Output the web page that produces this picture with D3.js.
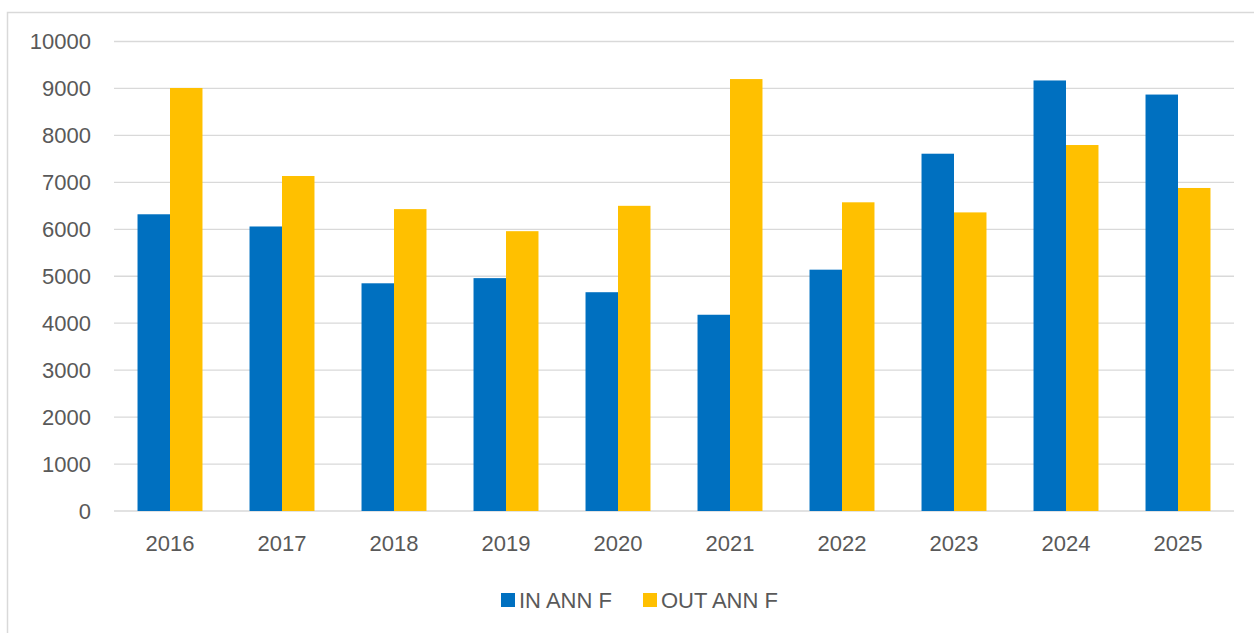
<!DOCTYPE html>
<html>
<head>
<meta charset="utf-8">
<script src="https://cdn.jsdelivr.net/npm/d3@7"></script>
<style>
  html, body { margin: 0; padding: 0; background: #fff; overflow: hidden; }
  svg { display: block; }
  svg text { font-family: "Liberation Sans", Arial, sans-serif; fill: #595959; }
</style>
</head>
<body>
<div id="chart"></div>
<script>
/* global d3 */

var years = [ "2016", "2017", "2018", "2019", "2020", "2021", "2022", "2023", "2024", "2025" ];
var seriesNames = [ "IN ANN F", "OUT ANN F" ];
var inAnnF = [ 6320, 6060, 4850, 4960, 4660, 4180, 5140, 7610, 9170, 8870 ];
var outAnnF = [ 9010, 7135, 6430, 5960, 6500, 9200, 6575, 6360, 7795, 6880 ];
var yTicks = [ 0, 1000, 2000, 3000, 4000, 5000, 6000, 7000, 8000, 9000, 10000 ];
var colors = [ "#0070C0", "#FFC000" ];

var width = 1254,
  height = 633,
  margin = { top: 41.5, right: 20, bottom: 122, left: 114 };

var innerWidth = width - margin.left - margin.right,
  innerHeight = height - margin.top - margin.bottom;

var svg = d3.select( "#chart" ).append( "svg" )
  .attr( "width", width )
  .attr( "height", height );

// Frame (only the top and left edges show)
svg.append( "path" )
  .attr( "d", "M7.5," + height + "V12.5H" + width )
  .attr( "fill", "none" )
  .attr( "stroke", "#d9d9d9" )
  .attr( "stroke-width", 1.5 );

var g = svg.append( "g" )
  .attr( "transform", "translate(" + margin.left + "," + margin.top + ")" );

var xScale = d3.scaleBand()
  .domain( years )
  .range( [ 0, innerWidth ] )
  .paddingInner( 0.42 )
  .paddingOuter( 0.21 );

var x1 = d3.scaleBand()
  .domain( seriesNames )
  .range( [ 0, xScale.bandwidth() ] );

var yScale = d3.scaleLinear()
  .domain( [ 0, 10000 ] )
  .range( [ innerHeight, 0 ] );

// Gridlines
g.selectAll( ".grid" )
  .data( yTicks )
  .enter()
  .append( "line" )
    .attr( "class", "grid" )
    .attr( "x1", 0 )
    .attr( "x2", innerWidth )
    .attr( "y1", d => yScale( d ) )
    .attr( "y2", d => yScale( d ) )
    .attr( "stroke", "#d9d9d9" )
    .attr( "stroke-width", 1.3 );

// Y labels
g.selectAll( ".ylab" )
  .data( yTicks )
  .enter()
  .append( "text" )
    .attr( "class", "ylab" )
    .attr( "x", -23 )
    .attr( "y", d => yScale( d ) )
    .attr( "dy", "0.35em" )
    .attr( "text-anchor", "end" )
    .style( "font-size", "22px" )
    .text( d => d );

// Bars
var rows = years.map( function( y, i ) {
  return { year: y, values: [ inAnnF[ i ], outAnnF[ i ] ] };
} );

var groups = g.selectAll( ".group" )
  .data( rows )
  .enter()
  .append( "g" )
    .attr( "class", "group" )
    .attr( "transform", d => "translate(" + xScale( d.year ) + ",0)" );

groups.selectAll( "rect" )
  .data( d => d.values.map( ( v, j ) => ( { name: seriesNames[ j ], value: v, idx: j } ) ) )
  .enter()
  .append( "rect" )
    .attr( "x", d => x1( d.name ) )
    .attr( "width", x1.bandwidth() )
    .attr( "y", d => yScale( d.value ) )
    .attr( "height", d => innerHeight - yScale( d.value ) )
    .attr( "fill", d => colors[ d.idx ] );

// X labels
g.selectAll( ".xlab" )
  .data( years )
  .enter()
  .append( "text" )
    .attr( "class", "xlab" )
    .attr( "x", d => xScale( d ) + xScale.bandwidth() / 2 )
    .attr( "y", innerHeight + 32 )
    .attr( "dy", "0.35em" )
    .attr( "text-anchor", "middle" )
    .style( "font-size", "22px" )
    .text( d => d );

// Legend
var legendX = [ 501, 643 ];
var legend = svg.selectAll( ".legend" )
  .data( seriesNames )
  .enter()
  .append( "g" )
    .attr( "class", "legend" )
    .attr( "transform", ( d, i ) => "translate(" + legendX[ i ] + ",600)" );

legend.append( "rect" )
  .attr( "x", 0 )
  .attr( "y", -7 )
  .attr( "width", 14 )
  .attr( "height", 14 )
  .attr( "fill", ( d, i ) => colors[ i ] );

legend.append( "text" )
  .attr( "x", 18 )
  .attr( "y", 0 )
  .attr( "dy", "0.35em" )
  .style( "font-size", "22px" )
  .text( d => d );
</script>
</body>
</html>
